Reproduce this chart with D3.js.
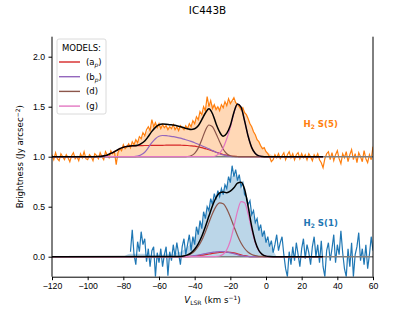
<!DOCTYPE html>
<html>
<head>
<meta charset="utf-8">
<script src="https://cdn.jsdelivr.net/npm/d3@7"></script>
<style>
  body { margin: 0; background: #fff; }
  svg { font-family: "DejaVu Sans", sans-serif; }
  .tick text { font-size: 8.7px; fill: #000; }
  .tick line, .domain { stroke: #000; }
</style>
</head>
<body>
<div id="chart"></div>
<script>
// IC443B: H2 S(5) (offset +1) and H2 S(1) line profiles with model fits

// spectra, one channel per km/s
const V_S5 = d3.range(-120, 61, 1);
const S5 = [
  1.02,0.97,1.04,0.98,0.96,1.03,1.00,0.97,1.02,0.99,
  0.95,1.01,1.04,0.98,1.00,0.96,1.03,0.99,1.05,0.98,
  0.97,1.02,1.00,0.96,1.03,1.01,0.98,1.04,1.00,0.97,
  1.05,1.02,0.99,1.06,1.03,1.05,0.92,1.04,1.08,1.06,
  1.12,1.08,1.10,1.13,1.09,1.15,1.12,1.17,1.14,1.20,
  1.18,1.24,1.21,1.27,1.30,1.26,1.37,1.30,1.34,1.29,
  1.33,1.28,1.32,1.29,1.31,1.27,1.30,1.28,1.32,1.27,
  1.30,1.26,1.31,1.29,1.27,1.31,1.28,1.33,1.30,1.36,
  1.33,1.40,1.37,1.45,1.42,1.50,1.46,1.60,1.50,1.56,
  1.48,1.52,1.47,1.50,1.46,1.52,1.49,1.55,1.51,1.58,
  1.53,1.56,1.59,1.54,1.52,1.50,1.47,1.49,1.44,1.42,
  1.38,1.33,1.30,1.25,1.22,1.17,1.15,1.11,1.08,1.09,
  1.05,1.03,1.00,0.95,0.97,1.02,0.99,1.03,0.98,1.01,
  1.04,0.97,1.02,1.05,0.99,1.03,0.97,1.02,1.04,0.98,
  1.03,0.99,1.02,0.97,1.03,1.00,0.96,1.02,0.99,1.03,
  0.97,0.94,0.89,0.98,1.03,1.05,0.97,1.04,0.96,1.02,
  1.06,0.98,0.93,1.03,0.99,1.05,0.95,1.02,1.07,0.97,
  1.03,0.94,1.04,1.00,0.95,1.06,0.98,0.94,1.02,0.97,
  1.10
];

const V_S1 = d3.range(-76, 61, 1);
const S1 = [
  0.05,0.27,0.02,-0.08,0.15,0.05,0.25,0.12,0.18,-0.05,
  0.08,-0.1,0.06,0.1,-0.2,0.04,-0.06,0.08,-0.1,0.02,
  0.1,-0.19,0.05,-0.04,0.12,0.0,0.14,0.03,-0.08,0.1,
  0.18,0.02,0.12,0.22,0.06,0.2,0.12,0.3,0.22,0.36,
  0.28,0.45,0.38,0.5,0.46,0.58,0.52,0.63,0.57,0.66,
  0.6,0.68,0.62,0.72,0.68,0.8,0.74,0.91,0.8,0.87,
  0.76,0.82,0.7,0.74,0.62,0.6,0.52,0.56,0.42,0.46,
  0.34,0.38,0.26,0.32,0.2,0.26,0.14,0.2,0.1,0.16,
  0.04,0.12,0.22,0.06,0.14,0.2,0.02,-0.12,-0.2,0.05,
  -0.08,0.1,-0.04,0.14,0.02,-0.1,0.08,0.18,-0.02,0.12,
  0.04,-0.08,0.1,0.2,0.0,0.12,-0.06,0.16,-0.1,-0.2,
  0.06,0.14,-0.04,0.08,0.22,-0.06,0.12,0.02,0.26,0.04,
  -0.12,-0.2,0.08,-0.1,0.14,-0.2,0.02,0.1,0.24,-0.04,
  0.08,-0.08,0.12,-0.12,0.02,0.2,0.06
];

// smoothed profiles used for the shaded areas (above the baseline)
const V_FILL_S5 = d3.range(-96, 8, 2);
const FILL_S5 = [
  0,0.005,0.01,0.015,0.02,0.03,0.04,0.06,0.09,0.1,
  0.12,0.14,0.16,0.19,0.22,0.27,0.31,0.32,0.31,0.3,
  0.3,0.29,0.29,0.29,0.29,0.29,0.3,0.32,0.35,0.39,
  0.44,0.49,0.53,0.52,0.5,0.49,0.5,0.53,0.56,0.56,
  0.53,0.49,0.45,0.38,0.3,0.22,0.15,0.1,0.06,0.03,0.01,0
];
const V_FILL_S1 = d3.range(-80, 8, 2);
const FILL_S1 = [
  0,0.02,0.03,0.03,0.03,0.03,0.03,0.02,0.02,0.02,
  0.02,0.02,0.03,0.03,0.03,0.04,0.05,0.07,0.1,0.14,
  0.2,0.27,0.34,0.42,0.5,0.56,0.61,0.64,0.67,0.72,
  0.78,0.82,0.8,0.72,0.62,0.52,0.44,0.37,0.3,0.24,
  0.18,0.12,0.06,0
];

// model components (above the baseline)
const V_MOD_S5 = [-120, ...d3.range(-96, 2, 2), 32];
const RED_S5 = [0,
  0,0.002,0.005,0.012,0.025,0.04,0.06,0.08,0.095,0.103,
  0.108,0.109,0.11,0.111,0.112,0.112,0.113,0.113,0.114,0.114,
  0.115,0.115,0.116,0.116,0.115,0.114,0.112,0.109,0.105,0.098,
  0.09,0.08,0.07,0.058,0.045,0.033,0.022,0.014,0.007,0.004,
  0.002,0,0,0,0,0,0,0,0,
0];
const PURPLE_S5 = [0,
  0,0,0,0,0,0,0,0,0,0,
  0,0,0.005,0.02,0.045,0.09,0.14,0.18,0.205,0.212,
  0.21,0.205,0.2,0.193,0.185,0.175,0.165,0.153,0.14,0.125,
  0.11,0.094,0.078,0.061,0.045,0.03,0.018,0.009,0.004,0.001,
  0,0,0,0,0,0,0,0,0,
0];
const BROWN_S5 = [0,
  0,0,0,0,0,0,0,0,0,0,
  0,0,0,0,0,0,0,0,0,0,
  0,0,0,0,0,0,0.002,0.01,0.034,0.086,
  0.17,0.263,0.317,0.30,0.23,0.15,0.075,0.03,0.01,0.003,
  0,0,0,0,0,0,0,0,0,
0];
const PINK_S5 = [0,
  0,0,0,0,0,0,0,0,0,0,
  0,0,0,0,0,0,0,0,0,0,
  0,0,0,0,0,0,0,0,0,0,
  0,0,0,0,0.01,0.035,0.09,0.18,0.29,0.435,
  0.525,0.495,0.358,0.204,0.091,0.031,0.008,0.002,0,
0];
const TOTAL_S5 = [0,
  0,0.002,0.005,0.012,0.025,0.04,0.06,0.08,0.095,0.103,
  0.108,0.109,0.115,0.131,0.157,0.202,0.253,0.293,0.319,0.326,
  0.325,0.32,0.316,0.309,0.30,0.289,0.279,0.272,0.279,0.309,
  0.37,0.437,0.48,0.43,0.33,0.248,0.205,0.233,0.311,0.443,
  0.527,0.495,0.358,0.204,0.091,0.031,0.008,0.002,0,
0];

const V_MOD_S1 = [-120, ...d3.range(-50, 6, 2), 32];
const RED_S1 = [0,
  0,0,0,0.001,0.003,0.006,0.01,0.015,0.021,0.027,
  0.033,0.038,0.042,0.045,0.046,0.044,0.038,0.029,0.019,0.01,
  0.004,0.001,0,0,0,0,0,0,
0];
const PURPLE_S1 = [0,
  0,0,0.001,0.003,0.006,0.011,0.017,0.024,0.031,0.038,
  0.044,0.049,0.051,0.05,0.046,0.039,0.03,0.02,0.011,0.005,
  0.002,0,0,0,0,0,0,0,
0];
const BROWN_S1 = [0,
  0.001,0.002,0.006,0.014,0.03,0.057,0.102,0.165,0.248,0.341,
  0.432,0.503,0.538,0.529,0.478,0.397,0.303,0.213,0.137,0.082,
  0.044,0.022,0.01,0.004,0.002,0.001,0,0,
0];
const PINK_S1 = [0,
  0,0,0,0,0,0,0,0,0,0,
  0,0.002,0.007,0.024,0.069,0.16,0.3,0.453,0.55,0.539,
  0.425,0.27,0.138,0.057,0.019,0.005,0.001,0,
0];
const TOTAL_S1 = [0,
  0.001,0.002,0.007,0.018,0.039,0.074,0.129,0.204,0.30,0.406,
  0.509,0.592,0.638,0.648,0.639,0.655,0.69,0.735,0.745,0.675,
  0.5,0.3,0.15,0.062,0.021,0.006,0.001,0,
0];

const OFFSET_S5 = 1.0;
const OFFSET_S1 = 0.0;

const X_TICKS = [-120, -100, -80, -60, -40, -20, 0, 20, 40, 60];
const Y_TICKS = [0, 0.5, 1.0, 1.5, 2.0];

const MODELS = [
  { label: 'a', sub: 'p', color: '#d62728' },
  { label: 'b', sub: 'p', color: '#9467bd' },
  { label: 'd', sub: '', color: '#8c564b' },
  { label: 'g', sub: '', color: '#e377c2' }
];

const W = 415, H = 311;
const margin = { top: 36.7, right: 42, bottom: 34.3, left: 52 };

const svg = d3.select('#chart').append('svg')
  .attr('width', W)
  .attr('height', H);

const x = d3.scaleLinear().domain([-120, 60]).range([margin.left, W - margin.right]);
const y = d3.scaleLinear().domain([-0.2, 2.2]).range([H - margin.bottom, margin.top]);

svg.append('clipPath').attr('id', 'plot')
  .append('rect')
  .attr('x', x(-120)).attr('y', y(2.2))
  .attr('width', x(60) - x(-120)).attr('height', y(-0.2) - y(2.2));

const g = svg.append('g').attr('clip-path', 'url(#plot)');

function pts(vs, vals, off) {
  return vs.map((v, i) => [v, vals[i] + off]);
}

const rawLine = d3.line().x(d => x(d[0])).y(d => y(d[1]));
const smoothLine = d3.line().x(d => x(d[0])).y(d => y(d[1])).curve(d3.curveMonotoneX);

function fillArea(vs, vals, off, color) {
  const area = d3.area()
    .x(d => x(d[0]))
    .y0(y(off))
    .y1(d => y(d[1]))
    .curve(d3.curveMonotoneX);
  g.append('path')
    .attr('d', area(pts(vs, vals, off)))
    .attr('fill', color)
    .attr('fill-opacity', 0.3);
}

// shaded profiles
fillArea(V_FILL_S5, FILL_S5, OFFSET_S5, '#ff7f0e');
fillArea(V_FILL_S1, FILL_S1, OFFSET_S1, '#1f77b4');

// observed spectra
g.append('path')
  .attr('d', rawLine(pts(V_S5, S5, 0)))
  .attr('fill', 'none').attr('stroke', '#ff7f0e').attr('stroke-width', 1.2);
g.append('path')
  .attr('d', rawLine(pts(V_S1, S1, 0)))
  .attr('fill', 'none').attr('stroke', '#1f77b4').attr('stroke-width', 1.2);

// grey baselines
[OFFSET_S5, OFFSET_S1].forEach(off => {
  g.append('path')
    .attr('d', rawLine([[-120, off], [60, off]]))
    .attr('stroke', '#7f7f7f').attr('stroke-width', 1.6).attr('fill', 'none');
});

// model components + total
function drawModels(vs, comps, total, off) {
  comps.forEach((vals, i) => {
    g.append('path')
      .attr('d', smoothLine(pts(vs, vals, off)))
      .attr('fill', 'none')
      .attr('stroke', MODELS[i].color)
      .attr('stroke-width', 1.2);
  });
  g.append('path')
    .attr('d', smoothLine(pts(vs, total, off)))
    .attr('fill', 'none')
    .attr('stroke', '#000')
    .attr('stroke-width', 1.5);
}
drawModels(V_MOD_S5, [RED_S5, PURPLE_S5, BROWN_S5, PINK_S5], TOTAL_S5, OFFSET_S5);
drawModels(V_MOD_S1, [RED_S1, PURPLE_S1, BROWN_S1, PINK_S1], TOTAL_S1, OFFSET_S1);

// axes
const xAxis = d3.axisBottom(x).tickValues(X_TICKS).tickSize(3.5).tickSizeOuter(0).tickPadding(2.5);
svg.append('g')
  .attr('transform', `translate(0,${y(-0.2)})`)
  .call(xAxis);

const yAxis = d3.axisLeft(y).tickValues(Y_TICKS).tickFormat(d3.format('.1f'))
  .tickSize(3.5).tickSizeOuter(0).tickPadding(3.5);
const yg = svg.append('g')
  .attr('transform', `translate(${x(-120)},0)`)
  .call(yAxis);
yg.select('.domain').attr('d', `M0,${y(-0.2)}V${y(2.2)}`);

svg.append('line')
  .attr('x1', x(60)).attr('x2', x(60))
  .attr('y1', y(-0.2)).attr('y2', y(2.2))
  .attr('stroke', '#000');

// line labels
function lineLabel(num, yv, color) {
  const t = svg.append('text')
    .attr('x', x(21))
    .attr('y', y(yv))
    .attr('fill', color)
    .style('font-size', '8.6px')
    .style('font-weight', 'bold');
  t.append('tspan').text('H');
  t.append('tspan').attr('dy', 2).style('font-size', '6px').text('2');
  t.append('tspan').attr('dy', -2).text(' S(' + num + ')');
}
lineLabel('5', 1.3, '#ff7f0e');
lineLabel('1', 0.31, '#1f77b4');

// title and axis labels
svg.append('text')
  .attr('x', 207.5).attr('y', 14)
  .attr('text-anchor', 'middle')
  .style('font-size', '10.4px')
  .text('IC443B');

const xl = svg.append('text')
  .attr('x', (x(-120) + x(60)) / 2).attr('y', 303)
  .attr('text-anchor', 'middle')
  .style('font-size', '8.7px');
xl.append('tspan').style('font-style', 'italic').text('V');
xl.append('tspan').attr('dy', 2).style('font-size', '6px').text('LSR');
xl.append('tspan').attr('dy', -2).text(' (km s');
xl.append('tspan').attr('dy', -3.5).style('font-size', '6px').text('−1');
xl.append('tspan').attr('dy', 3.5).text(')');

const yl = svg.append('text')
  .attr('transform', `translate(23,${(y(-0.2) + y(2.2)) / 2}) rotate(-90)`)
  .attr('text-anchor', 'middle')
  .style('font-size', '8.7px');
yl.append('tspan').text('Brightness (Jy arcsec');
yl.append('tspan').attr('dy', -3.5).style('font-size', '6px').text('−2');
yl.append('tspan').attr('dy', 3.5).text(')');

// legend
const lg = svg.append('g').attr('transform', 'translate(57,39)');
lg.append('rect')
  .attr('width', 49).attr('height', 75).attr('rx', 2)
  .attr('fill', '#fff').attr('fill-opacity', 0.8)
  .attr('stroke', '#d0d0d0').attr('stroke-width', 0.8);
lg.append('text')
  .attr('x', 24.5).attr('y', 12)
  .attr('text-anchor', 'middle')
  .style('font-size', '8.5px')
  .text('MODELS:');
MODELS.forEach((m, i) => {
  const yy = 23 + i * 14.7;
  lg.append('line')
    .attr('x1', 2).attr('x2', 23)
    .attr('y1', yy).attr('y2', yy)
    .attr('stroke', m.color).attr('stroke-width', 1.4);
  const t = lg.append('text')
    .attr('x', 29).attr('y', yy + 3)
    .style('font-size', '8.5px');
  t.append('tspan').text('(' + m.label);
  if (m.sub) {
    t.append('tspan').attr('dy', 2).style('font-size', '6px').style('font-style', 'italic').text(m.sub);
    t.append('tspan').attr('dy', -2).text(')');
  } else {
    t.append('tspan').text(')');
  }
});
</script>
</body>
</html>
